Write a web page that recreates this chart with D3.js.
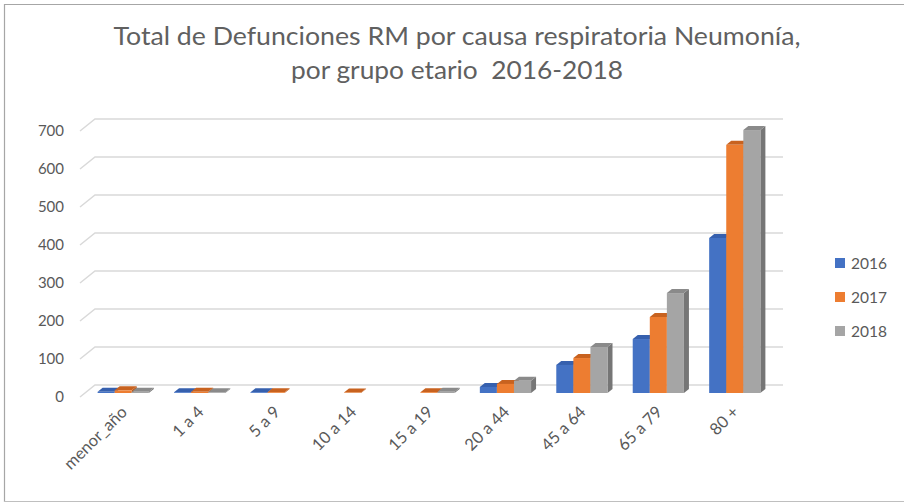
<!DOCTYPE html>
<html>
<head>
<meta charset="utf-8">
<script src="https://cdn.jsdelivr.net/npm/d3@7"></script>
<style>
  html, body { margin: 0; padding: 0; background: #fff; }
  svg { display: block; }
  text { font-family: Lato, "Open Sans", sans-serif; fill: #595959; }
</style>
</head>
<body>
<svg id="chart" width="904" height="503"></svg>
<script>
// Deaths in RM from pneumonia, by age group and year
const categories = ["menor_año", "1 a 4", "5 a 9", "10 a 14", "15 a 19", "20 a 44", "45 a 64", "65 a 79", "80 +"];
const years = ["2016", "2017", "2018"];
const values2016 = [3, 2, 2, null, null, 16, 74, 142, 408];
const values2017 = [7, 3, 2, 1, 2, 24, 92, 200, 653];
const values2018 = [3, 2, null, null, 3, 32, 121, 263, 692];
const yTicks = [0, 100, 200, 300, 400, 500, 600, 700];
const titleLines = ["Total de Defunciones RM por causa respiratoria Neumonía,", "por grupo etario  2016-2018"];

const seriesValues = [values2016, values2017, values2018];
const colors = {
  "2016": { front: "#4472C4", top: "#3660AE", side: "#2F5597" },
  "2017": { front: "#ED7D31", top: "#C8621F", side: "#B85B1E" },
  "2018": { front: "#A5A5A5", top: "#8A8A8A", side: "#767676" }
};

const svg = d3.select("#chart");

// frame lines (top, left, bottom)
svg.append("line").attr("x1", 4).attr("x2", 904).attr("y1", 4.5).attr("y2", 4.5).attr("stroke", "#a6a6a6").attr("stroke-width", 1.2);
svg.append("line").attr("x1", 4.5).attr("x2", 4.5).attr("y1", 4).attr("y2", 502).attr("stroke", "#a6a6a6").attr("stroke-width", 1.2);
svg.append("line").attr("x1", 4).attr("x2", 904).attr("y1", 501.5).attr("y2", 501.5).attr("stroke", "#bfbfbf").attr("stroke-width", 1.2);

// title
const titleWidths = [687, 332];
svg.append("g").selectAll("text").data(titleLines).join("text")
  .attr("x", 457)
  .attr("y", (d, i) => 45 + i * 34)
  .attr("text-anchor", "middle")
  .attr("font-size", 24.5)
  .attr("textLength", (d, i) => titleWidths[i])
  .attr("lengthAdjust", "spacingAndGlyphs")
  .style("white-space", "pre")
  .style("fill", "#606060")
  .text(d => d);

// pseudo-3D geometry: floor front-left corner and depth vector
const frontX0 = 80, frontX1 = 768, frontY0 = 397;
const depth = { dx: 15, dy: -12 };
const barDepthT = 1 / 3;           // bars sit a third of the way back
const barDepth = { dx: 5, dy: -4 }; // thickness of each bar

const y = d3.scaleLinear().domain([0, 700]).range([0, 266]);

// gridlines on the back wall with a diagonal on the side wall
const grid = svg.append("g");
yTicks.forEach(t => {
  const yf = frontY0 - y(t);
  const yb = yf + depth.dy;
  grid.append("path")
    .attr("d", `M${frontX0},${yf}L${frontX0 + depth.dx},${yb}L${frontX1 + depth.dx},${yb}`)
    .attr("fill", "none")
    .attr("stroke", "#d9d9d9")
    .attr("stroke-width", 1.5);
});

// value axis labels on the front edge
svg.append("g").selectAll("text").data(yTicks).join("text")
  .attr("x", 64)
  .attr("y", t => frontY0 - y(t))
  .attr("dy", "0.36em")
  .attr("text-anchor", "end")
  .attr("font-size", 15)
  .text(t => t);

// bars
const barOffX = depth.dx * barDepthT, barBaseY = frontY0 + depth.dy * barDepthT;
const x = d3.scaleBand().domain(categories)
  .range([frontX0 + barOffX, frontX1 + barOffX])
  .paddingInner(0.33).paddingOuter(0.165);
const xs = d3.scaleBand().domain(years).range([0, x.bandwidth()]);

const bars = [];
categories.forEach((c, ci) => {
  years.forEach((yr, si) => {
    const v = seriesValues[si][ci];
    if (v === null) return;
    bars.push({ c, yr, v });
  });
});

const barG = svg.append("g");
bars.forEach(b => {
  const x0 = x(b.c) + xs(b.yr), x1 = x0 + xs.bandwidth();
  const yb = barBaseY, yt = barBaseY - y(b.v);
  const col = colors[b.yr];
  const g = barG.append("g");
  // right side face
  g.append("path")
    .attr("d", `M${x1},${yb}L${x1 + barDepth.dx},${yb + barDepth.dy}L${x1 + barDepth.dx},${yt + barDepth.dy}L${x1},${yt}Z`)
    .attr("fill", col.side);
  // top face
  g.append("path")
    .attr("d", `M${x0},${yt}L${x0 + barDepth.dx},${yt + barDepth.dy}L${x1 + barDepth.dx},${yt + barDepth.dy}L${x1},${yt}Z`)
    .attr("fill", col.top);
  // front face
  g.append("rect")
    .attr("x", x0).attr("y", yt)
    .attr("width", xs.bandwidth()).attr("height", yb - yt)
    .attr("fill", col.front);
});

// category labels, rotated
svg.append("g").selectAll("text").data(categories).join("text")
  .attr("transform", c => `translate(${x(c) + x.bandwidth() / 2 + 5},${413}) rotate(-45)`)
  .attr("text-anchor", "end")
  .attr("font-size", 16.5)
  .text(c => c);

// legend
const legend = svg.append("g").selectAll("g").data(years).join("g")
  .attr("transform", (d, i) => `translate(835,${263 + i * 34})`);
legend.append("rect").attr("x", 0).attr("y", -5).attr("width", 10).attr("height", 10)
  .attr("fill", d => colors[d].front);
legend.append("text").attr("x", 16).attr("y", 0).attr("dy", "0.36em")
  .attr("font-size", 15.5).text(d => d);
</script>
</body>
</html>
